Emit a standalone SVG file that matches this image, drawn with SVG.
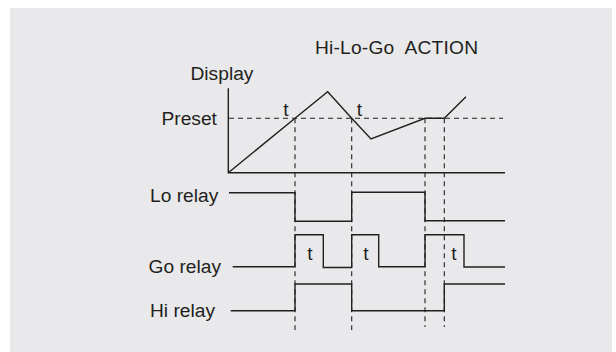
<svg xmlns="http://www.w3.org/2000/svg" width="616" height="352" viewBox="0 0 616 352">
<style>
.t{font-family:"Liberation Sans",Arial,sans-serif;font-size:19.2px;fill:#231f20}
.s{fill:none;stroke:#231f20;stroke-width:1.4}
.d{fill:none;stroke:#231f20;stroke-width:1.1;stroke-dasharray:5,4}
</style>
<rect x="0" y="0" width="616" height="352" fill="#ffffff"/>
<rect x="10" y="8" width="602" height="344" fill="#e9e9eb"/>
<g id="title"><text class="t" x="315" y="54" font-size="18" textLength="163" xml:space="preserve" style="white-space:pre">Hi-Lo-Go  ACTION</text></g>
<g id="display-chart">
<text class="t" x="190.5" y="79.5">Display</text>
<text class="t" x="161.5" y="124.5">Preset</text>
<path class="s" d="M228.3,88.3 V172.7 H505"/>
<path class="d" d="M229,118.3 H503"/>
<path class="s" d="M228.3,172.7 L295,118.3 L327.7,91.7 L351.7,118.3 L371,139 L425,118.3 H444.3 L466,96.7"/>
<text class="t" x="286" y="116" text-anchor="middle">t</text>
<text class="t" x="359.5" y="116" text-anchor="middle">t</text>
</g>
<g id="lo-relay">
<text class="t" x="150" y="201.7">Lo relay</text>
<path class="s" d="M229,192.7 H295 V221.3 H351.7 V192.3 H425 V220.7 H505"/>
</g>
<g id="go-relay">
<text class="t" x="148.5" y="272.7">Go relay</text>
<path class="s" d="M232.7,266.7 H295 V234.7 H323.3 V267.5 H351.7 V234.7 H378.7 V266.7 H425 V234.7 H464 V267 H505"/>
<text class="t" x="310" y="260" text-anchor="middle">t</text>
<text class="t" x="366" y="260" text-anchor="middle">t</text>
<text class="t" x="454" y="260" text-anchor="middle">t</text>
</g>
<g id="hi-relay">
<text class="t" x="150" y="316.7">Hi relay</text>
<path class="s" d="M230.7,310.7 H295 V284 H351.7 V310.7 H444.3 V284 H505"/>
</g>
<g id="connectors">
<path class="d" d="M295,118.3 V330 M351.7,118.3 V330 M425,118.3 V327 M444.3,118.3 V327"/>
</g>
</svg>
